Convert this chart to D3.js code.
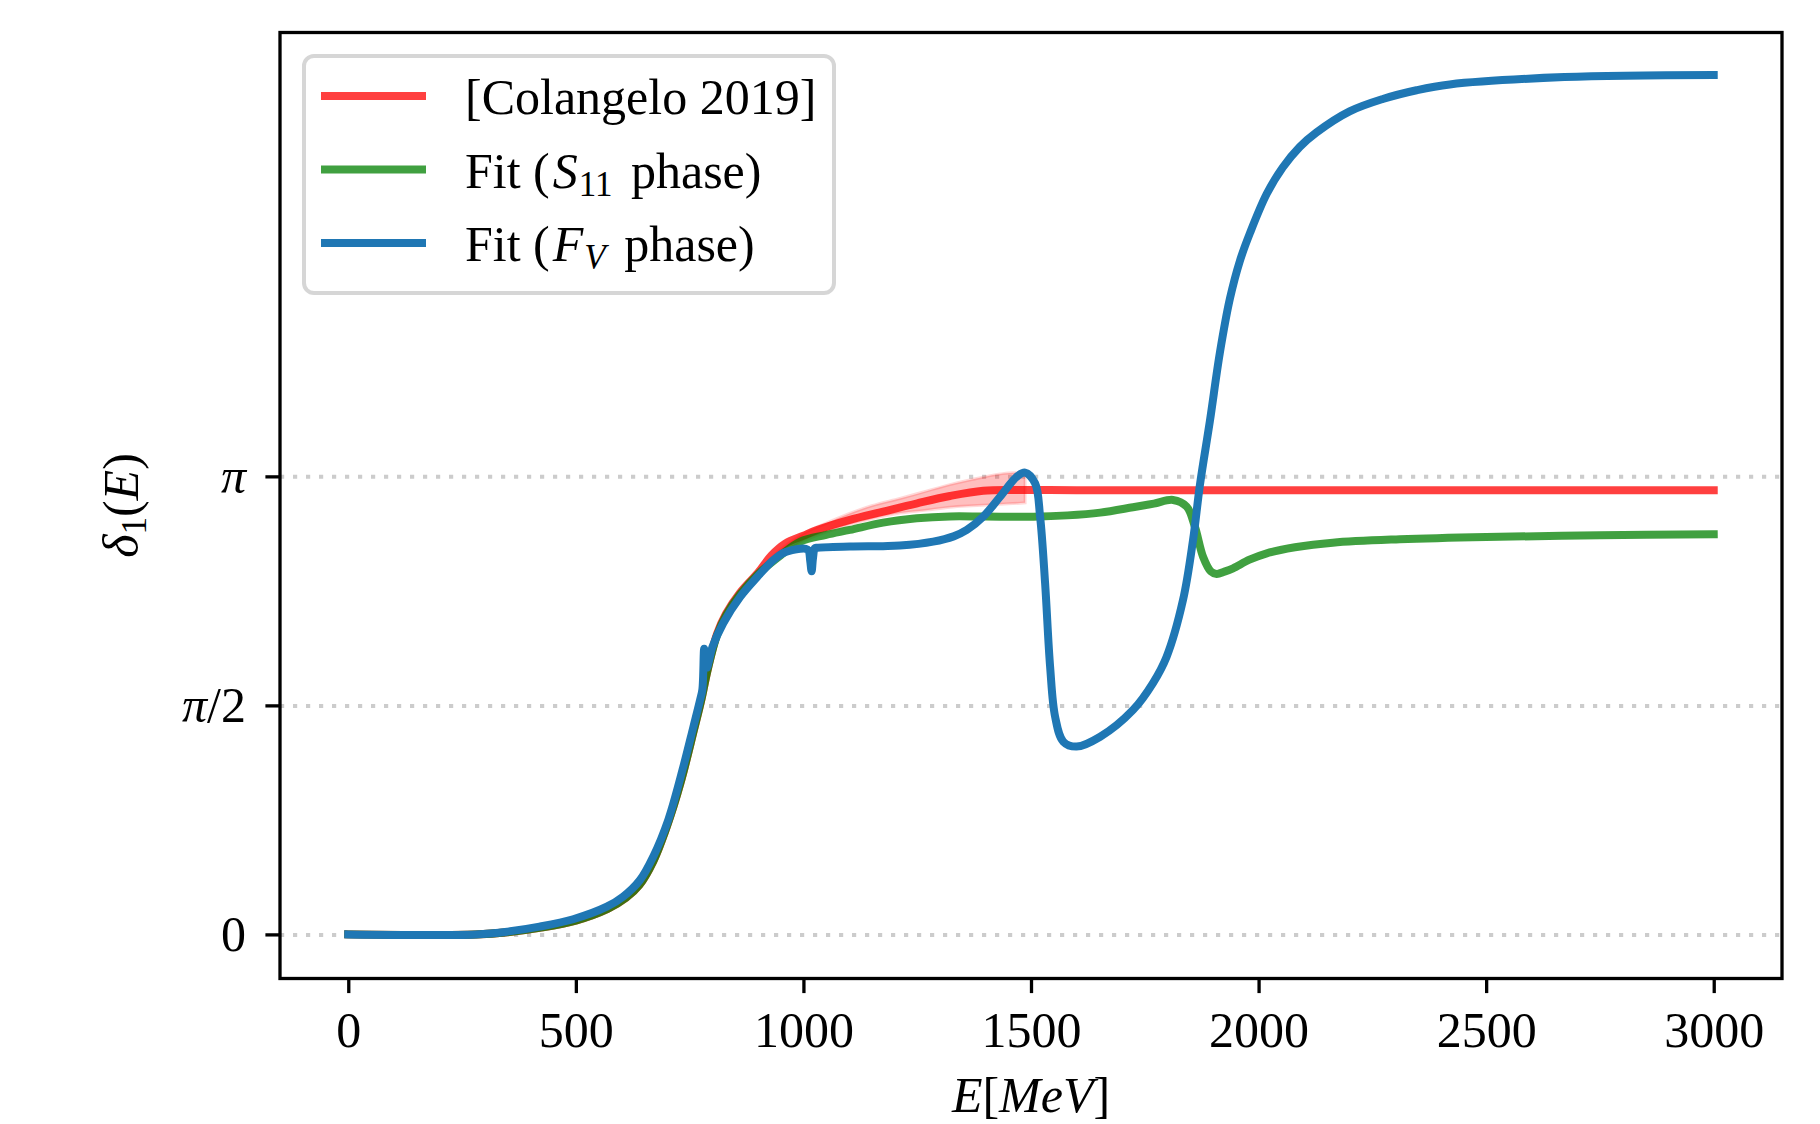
<!DOCTYPE html>
<html>
<head>
<meta charset="utf-8">
<script src="https://cdn.jsdelivr.net/npm/d3@7/dist/d3.min.js"></script>
<style>
  body { margin: 0; background: #fff; }
  text { font-family: "Liberation Serif", "DejaVu Serif", serif; fill: #000; }
</style>
</head>
<body>
<svg id="phase"></svg>
<script>
// values: E in MeV, delta in rad
const redE = [0, 280, 350, 420, 500, 570, 610, 640, 670, 700, 730, 760, 775, 790, 810, 830, 860, 900, 930, 960, 1000, 1030, 1100, 1175, 1250, 1322, 1395, 1470, 1600, 2000, 2500, 3000];
const redD = [0, 0, 0.015, 0.045, 0.095, 0.175, 0.25, 0.34, 0.5, 0.74, 1.04, 1.41, 1.60, 1.82, 2.06, 2.2, 2.34, 2.48, 2.6, 2.68, 2.735, 2.774, 2.842, 2.90, 2.957, 3.007, 3.043, 3.048, 3.047, 3.047, 3.047, 3.047];

const bandE = [900, 950, 1000, 1050, 1100, 1150, 1212, 1270, 1322, 1370, 1432, 1460, 1487];
const bandLo = [2.47, 2.6, 2.70, 2.76, 2.81, 2.85, 2.89, 2.91, 2.93, 2.94, 2.95, 2.955, 2.96];
const bandHi = [2.49, 2.64, 2.75, 2.82, 2.885, 2.94, 2.99, 3.04, 3.085, 3.12, 3.158, 3.167, 3.165];

const greenE = [0, 280, 350, 420, 500, 570, 610, 640, 670, 700, 730, 760, 775, 790, 810, 830, 860, 900, 950, 993, 1050, 1102, 1175, 1249, 1322, 1400, 1505, 1580, 1652, 1724, 1770, 1812, 1842, 1860, 1878, 1895, 1908, 1925, 1944, 1980, 2018, 2080, 2163, 2310, 2500, 2750, 3000];
const greenD = [0, 0, 0.015, 0.045, 0.095, 0.175, 0.25, 0.34, 0.5, 0.74, 1.04, 1.41, 1.60, 1.82, 2.05, 2.19, 2.33, 2.47, 2.6, 2.694, 2.74, 2.774, 2.824, 2.854, 2.867, 2.866, 2.865, 2.874, 2.893, 2.93, 2.955, 2.98, 2.934, 2.797, 2.59, 2.49, 2.472, 2.488, 2.511, 2.57, 2.614, 2.655, 2.687, 2.71, 2.726, 2.737, 2.745];

const blueE = [0, 280, 350, 420, 494, 568, 604, 641, 670, 703, 736, 758, 773, 778, 782, 785, 788, 792, 800, 824, 861, 898, 934, 955, 975, 993, 1005, 1011, 1015, 1018, 1021, 1025, 1030, 1102, 1175, 1212, 1285, 1330, 1359, 1395, 1432, 1469, 1487, 1509, 1520, 1531, 1542, 1553, 1571, 1600, 1652, 1724, 1768, 1798, 1834, 1856, 1871, 1893, 1915, 1937, 1959, 1981, 2018, 2053, 2090, 2127, 2200, 2273, 2347, 2420, 2672, 3000];
const blueD = [0, 0, 0.019, 0.053, 0.104, 0.19, 0.259, 0.373, 0.533, 0.785, 1.148, 1.42, 1.608, 1.68, 1.96, 1.88, 1.83, 1.87, 1.97, 2.136, 2.315, 2.45, 2.568, 2.615, 2.635, 2.645, 2.645, 2.635, 2.56, 2.49, 2.58, 2.648, 2.652, 2.66, 2.663, 2.667, 2.694, 2.73, 2.774, 2.865, 3.002, 3.14, 3.167, 3.094, 2.865, 2.408, 1.836, 1.493, 1.322, 1.288, 1.356, 1.539, 1.724, 1.905, 2.294, 2.705, 3.08, 3.52, 3.99, 4.36, 4.62, 4.81, 5.08, 5.26, 5.40, 5.50, 5.645, 5.73, 5.79, 5.83, 5.88, 5.895];

const xTicks = [0, 500, 1000, 1500, 2000, 2500, 3000];
const yTicks = [0, Math.PI / 2, Math.PI];
// each label is a list of [text, italic?] pieces
const yTickLabels = [[["0", false]], [["π", true], ["/2", false]], [["π", true]]];

// [text, italic, subscript]
const legendLabels = [
    [["[Colangelo 2019]", false, false]],
    [["Fit (", false, false], ["S", true, false], ["11", false, true], [" phase)", false, false]],
    [["Fit (", false, false], ["F", true, false], ["V", true, true], [" phase)", false, false]]
];
const legendColors = ["red", "green", "#1f77b4"];
const legendOpacity = [0.75, 0.75, 1];

function plotPhase() {
    const width = 1820;
    const height = 1124;
    const left = 280, right = 1782, top = 32.5, bottom = 978.5;
    const fontSize = 50;

    const xScale = d3.scaleLinear()
        .domain([-150, 3150])
        .range([left, right]);

    const yScale = d3.scaleLinear()
        .domain([-0.3025, 6.186])
        .range([bottom, top]);

    const svg = d3.select("#phase")
        .attr("width", width)
        .attr("height", height)
        .style("background-color", "#fff");

    // dotted horizontal grid at 0, pi/2, pi
    const grid = d3.axisLeft(yScale)
        .tickValues(yTicks)
        .tickSize(-(right - left))
        .tickFormat("");

    svg.append("g")
        .attr("transform", `translate(${left}, 0)`)
        .call(grid)
        .call(g => g.select(".domain").remove())
        .selectAll("line")
            .attr("stroke", "#cccccc")
            .attr("stroke-width", 4)
            .attr("stroke-dasharray", "4.2 8.8");

    const line = (es, ds) => d3.line()
        .x((d, i) => xScale(es[i]))
        .y(d => yScale(d))
        .curve(d3.curveCatmullRom.alpha(0.5))(ds);

    svg.append("path")
        .attr("d", line(redE, redD))
        .attr("fill", "none")
        .attr("stroke", "red")
        .attr("stroke-opacity", 0.75)
        .attr("stroke-width", 8)
        .attr("stroke-linecap", "square")
        .attr("stroke-linejoin", "round");

    const band = d3.area()
        .x((d, i) => xScale(bandE[i]))
        .y0((d, i) => yScale(bandLo[i]))
        .y1(d => yScale(d))
        .curve(d3.curveMonotoneX);

    svg.append("path")
        .attr("d", band(bandHi) + "Z")
        .attr("fill", "rgba(255,0,0,0.25)")
        .attr("stroke", "rgba(255,0,0,0.15)")
        .attr("stroke-width", 3);

    svg.append("path")
        .attr("d", line(greenE, greenD))
        .attr("fill", "none")
        .attr("stroke", "green")
        .attr("stroke-opacity", 0.75)
        .attr("stroke-width", 8)
        .attr("stroke-linecap", "square")
        .attr("stroke-linejoin", "round");

    svg.append("path")
        .attr("d", line(blueE, blueD))
        .attr("fill", "none")
        .attr("stroke", "#1f77b4")
        .attr("stroke-width", 8)
        .attr("stroke-linecap", "square")
        .attr("stroke-linejoin", "round");

    // axes
    const xAxis = d3.axisBottom(xScale)
        .tickValues(xTicks)
        .tickFormat(d3.format("d"))
        .tickSize(14.6)
        .tickSizeOuter(0);

    const yAxis = d3.axisLeft(yScale)
        .tickValues(yTicks)
        .tickSize(14.6)
        .tickSizeOuter(0)
        .tickFormat("");

    const gx = svg.append("g")
        .attr("transform", `translate(0, ${bottom})`)
        .call(xAxis);
    gx.select(".domain").remove();
    gx.selectAll("line").attr("stroke-width", 3.3);
    gx.selectAll("text")
        .attr("dy", null)
        .attr("y", 68)
        .style("font-family", "'Liberation Serif', serif")
        .style("font-size", fontSize + "px");

    const gy = svg.append("g")
        .attr("transform", `translate(${left}, 0)`)
        .call(yAxis);
    gy.select(".domain").remove();
    gy.selectAll("line").attr("stroke-width", 3.3);

    yTicks.forEach((t, i) => {
        const txt = svg.append("text")
            .attr("x", 246)
            .attr("y", yScale(t) + 17)
            .attr("text-anchor", "end")
            .style("font-size", fontSize + "px");
        yTickLabels[i].forEach(p => {
            txt.append("tspan")
                .style("font-style", p[1] ? "italic" : "normal")
                .text(p[0]);
        });
    });

    // frame
    svg.append("rect")
        .attr("x", left)
        .attr("y", top)
        .attr("width", right - left)
        .attr("height", bottom - top)
        .attr("fill", "none")
        .attr("stroke", "#000")
        .attr("stroke-width", 3.3);

    // x label
    const xl = svg.append("text")
        .attr("x", (left + right) / 2)
        .attr("y", 1112)
        .attr("text-anchor", "middle")
        .style("font-size", fontSize + "px");
    xl.append("tspan").style("font-style", "italic").text("E");
    xl.append("tspan").text("[");
    xl.append("tspan").style("font-style", "italic").text("MeV");
    xl.append("tspan").text("]");

    // y label
    const yl = svg.append("text")
        .attr("transform", `translate(138, ${(top + bottom) / 2}) rotate(-90)`)
        .attr("text-anchor", "middle")
        .style("font-size", fontSize + "px");
    yl.append("tspan").style("font-style", "italic").text("δ");
    yl.append("tspan").attr("dy", 8).style("font-size", "35px").text("1");
    yl.append("tspan").attr("dy", -8).text("(");
    yl.append("tspan").style("font-style", "italic").text("E");
    yl.append("tspan").text(")");

    // legend
    svg.append("rect")
        .attr("x", 304)
        .attr("y", 56)
        .attr("width", 530)
        .attr("height", 237)
        .attr("rx", 10)
        .attr("fill", "rgba(255,255,255,0.8)")
        .attr("stroke", "#cccccc")
        .attr("stroke-opacity", 0.8)
        .attr("stroke-width", 4);

    legendLabels.forEach((parts, i) => {
        const ly = 96 + i * 73.5;
        svg.append("line")
            .attr("x1", 321)
            .attr("x2", 426)
            .attr("y1", ly)
            .attr("y2", ly)
            .attr("stroke", legendColors[i])
            .attr("stroke-opacity", legendOpacity[i])
            .attr("stroke-width", 8);
        const txt = svg.append("text")
            .attr("x", 465)
            .attr("y", ly + 18)
            .style("font-size", fontSize + "px");
        let shifted = false;
        parts.forEach(p => {
            const ts = txt.append("tspan")
                .style("font-style", p[1] ? "italic" : "normal")
                .text(p[0]);
            if (p[1] && !p[2]) ts.attr("dx", 3);
            if (p[2]) {
                ts.attr("dy", 8).attr("dx", 1).style("font-size", "35px");
                shifted = true;
            } else if (shifted) {
                ts.attr("dy", -8).attr("dx", 6);
                shifted = false;
            }
        });
    });
}

plotPhase();
</script>
</body>
</html>
